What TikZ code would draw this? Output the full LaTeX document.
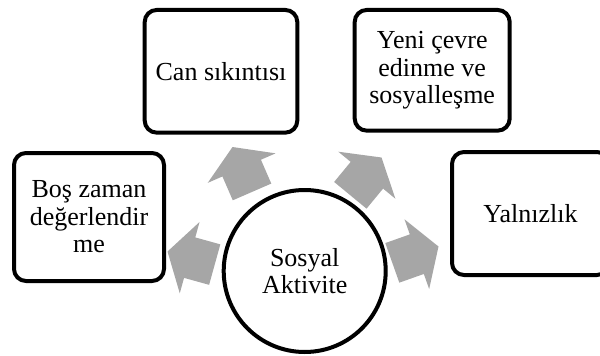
\documentclass[tikz,border=0pt]{standalone}
\usepackage{fontspec}
\setmainfont{Liberation Serif}
\definecolor{arrowgray}{RGB}{166,166,166}
\tikzset{
  box/.style={draw=black, line width=4pt, rounded corners=12pt, fill=white,
    inner sep=0pt, outer sep=0pt, align=center,
    font=\fontsize{26}{27.5}\selectfont},
  hub/.style={draw=black, line width=4pt, circle, fill=white, inner sep=0pt,
    outer sep=0pt, minimum size=162pt, align=center,
    font=\fontsize{26}{27.5}\selectfont},
  arrowfill/.style={fill=arrowgray, draw=none}
}
% block arrow: #1 tip coordinate, #2 direction angle
\newcommand\radarrow[2]{%
  \fill[arrowfill, shift={(#1)}, rotate=#2]
    (0,0) -- (-23,37) -- (-23,21) -- (-49,21) -- (-49,-21) -- (-23,-21)
    -- (-23,-37) -- cycle;}
\begin{document}
\begin{tikzpicture}[x=1pt,y=-1pt]
\useasboundingbox (0,0) rectangle (600,356);
\clip (0,0) rectangle (600,356);
\node[box, minimum width=150pt, minimum height=128pt] (bos) at (89,217)
  {Boş zaman\\değerlendir\\me};
\node[box, minimum width=152.6pt, minimum height=122.7pt] (can) at (221,71.3)
  {Can sıkıntısı};
\node[box, minimum width=155pt, minimum height=120.7pt] (yeni) at (432.2,70.3)
  {Yeni çevre\\edinme ve\\sosyalleşme};
\node[box, minimum width=157pt, minimum height=123pt] (yal) at (530.5,213.5)
  {Yalnızlık};
\node[hub] (hub) at (304.7,271) {Sosyal\\Aktivite};
\coordinate (tbos) at (167.5,251.5);
\coordinate (tcan) at (232.5,147);
\coordinate (tyeni) at (381.5,157.5);
\coordinate (tyal) at (438.5,246.5);
\radarrow{tbos}{164.5}
\radarrow{tcan}{113.5}
\radarrow{tyeni}{50.5}
\radarrow{tyal}{19.5}
\end{tikzpicture}
\end{document}
